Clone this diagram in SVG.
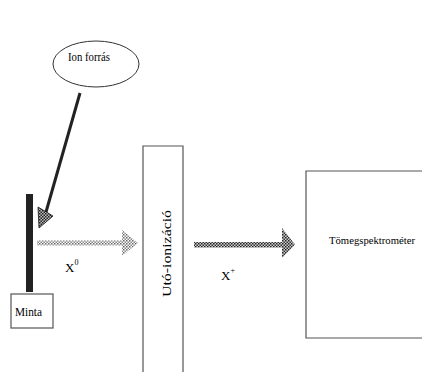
<svg xmlns="http://www.w3.org/2000/svg" width="422" height="372" viewBox="0 0 422 372">
<defs>
<style>
.t{font-family:"Liberation Serif",serif;fill:#000}
.box{fill:#fff;stroke:#555;stroke-width:1.2}
</style>
<pattern id="light" width="3" height="3" patternUnits="userSpaceOnUse">
<rect width="3" height="3" fill="#fff"/>
<rect width="1.5" height="1.5" fill="#666"/>
<rect x="1.5" y="1.5" width="1.5" height="1.5" fill="#888"/>
</pattern>
<pattern id="dark" width="3" height="3" patternUnits="userSpaceOnUse">
<rect width="3" height="3" fill="#ccc"/>
<rect width="1.5" height="1.5" fill="#222"/>
<rect x="1.5" y="1.5" width="1.5" height="1.5" fill="#333"/>
</pattern>
<pattern id="mid" width="3" height="3" patternUnits="userSpaceOnUse">
<rect width="3" height="3" fill="#bbb"/>
<rect width="1.5" height="1.5" fill="#222"/>
<rect x="1.5" y="1.5" width="1.5" height="1.5" fill="#222"/>
</pattern>
</defs>
<rect width="422" height="372" fill="#fff"/>
<g id="ion-forras">
<ellipse cx="96" cy="64" rx="43" ry="23" fill="#fff" stroke="#333" stroke-width="1"/>
<text class="t" font-size="13" x="68" y="61" textLength="42" lengthAdjust="spacingAndGlyphs">Ion forrás</text>
</g>
<g id="minta">
<rect x="26" y="194" width="7" height="98" fill="#222"/>
<rect class="box" x="11" y="294" width="42" height="34"/>
<text class="t" font-size="13" x="15" y="316" textLength="27" lengthAdjust="spacingAndGlyphs">Minta</text>
</g>
<g id="uto-ionizacio">
<path class="box" d="M143,372 V146 H183 V372"/>
<text class="t" font-size="12.5" transform="translate(171,297) rotate(-90)" textLength="87" lengthAdjust="spacingAndGlyphs">Utó-ionizáció</text>
</g>
<g id="tomegspektrometer">
<path class="box" d="M422,171 H306 V338 H422"/>
<text class="t" font-size="11" x="329" y="244" textLength="86" lengthAdjust="spacingAndGlyphs">Tömegspektrométer</text>
</g>
<g id="connectors">
<line x1="80" y1="93" x2="46" y2="212" stroke="#222" stroke-width="3"/>
<polygon points="39,228 38,207 53,216" fill="url(#mid)" stroke="#111" stroke-width="0.8"/>
<rect x="37" y="240.5" width="86" height="5" fill="url(#light)"/>
<polygon points="122,230 138,243 122,256" fill="url(#light)"/>
<text class="t" font-size="13" x="65" y="272">X<tspan font-size="8" dy="-7">0</tspan></text>
<rect x="194" y="242" width="89" height="5.5" fill="url(#dark)"/>
<polygon points="282,228 295,244.5 282,258" fill="url(#dark)"/>
<text class="t" font-size="13" x="221" y="280">X<tspan font-size="8" dy="-7">+</tspan></text>
</g>
</svg>
